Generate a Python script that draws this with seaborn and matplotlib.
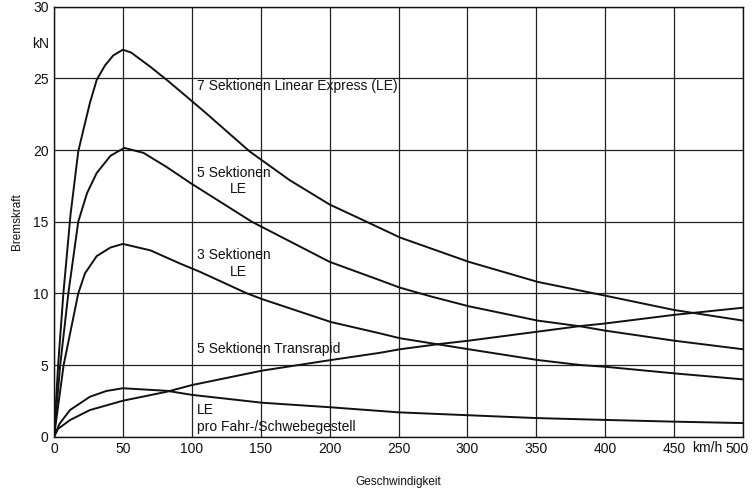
import matplotlib
matplotlib.use("Agg")
import matplotlib.pyplot as plt
import matplotlib.transforms as mtransforms
import seaborn as sns
import pandas as pd

# Bremskraft über Geschwindigkeit für verschiedene Zugkonfigurationen
v_7le = [0, 3, 6.8, 12, 17.6, 21.3, 26.1, 31, 37, 43, 50, 56, 63, 70, 83, 99, 110, 142, 171, 200, 229, 251, 301, 351, 400, 450, 500]
f_7le = [0, 5, 10, 15.5, 19.9, 21.4, 23.3, 24.9, 25.9, 26.6, 27.0, 26.8, 26.3, 25.8, 24.8, 23.5, 22.6, 19.9, 17.9, 16.2, 14.9, 13.9, 12.2, 10.8, 9.84, 8.84, 8.1]

v_5le = [0, 4.5, 10.4, 17.6, 24, 31, 41, 51, 65, 82, 99, 143.5, 200, 237, 251, 273, 301, 351, 382, 400, 450, 500]
f_5le = [0, 5, 10, 15, 17, 18.4, 19.6, 20.15, 19.8, 18.8, 17.7, 15.0, 12.2, 10.9, 10.4, 9.8, 9.1, 8.1, 7.7, 7.4, 6.7, 6.1]

v_3le = [0, 7, 17.6, 22.5, 31, 41, 50, 70, 91, 106, 140, 151, 201, 237, 251, 301, 351, 382, 400, 450, 500]
f_3le = [0, 5, 10, 11.4, 12.6, 13.2, 13.45, 13.0, 12.1, 11.5, 10.0, 9.6, 8.0, 7.2, 6.87, 6.1, 5.35, 5.0, 4.88, 4.42, 4.0]

v_tr = [0, 3, 11.6, 26.1, 50, 82, 100, 151, 201, 237, 251, 280, 301, 351, 382, 400, 450, 500]
f_tr = [0, 0.55, 1.16, 1.86, 2.51, 3.14, 3.6, 4.61, 5.35, 5.86, 6.1, 6.47, 6.7, 7.33, 7.72, 7.9, 8.5, 9.0]

v_le1 = [0, 4, 11.6, 26.1, 38, 50, 82, 100, 151, 201, 250, 300, 350, 400, 450, 500]
f_le1 = [0, 0.9, 1.86, 2.79, 3.19, 3.38, 3.2, 2.92, 2.37, 2.05, 1.7, 1.5, 1.3, 1.17, 1.05, 0.95]

series = {
    "7 Sektionen LE": (v_7le, f_7le),
    "5 Sektionen LE": (v_5le, f_5le),
    "3 Sektionen LE": (v_3le, f_3le),
    "5 Sektionen Transrapid": (v_tr, f_tr),
    "LE pro Fahr-/Schwebegestell": (v_le1, f_le1),
}

x_ticks = [0, 50, 100, 150, 200, 250, 300, 350, 400, 450, 500]
y_ticks = [0, 5, 10, 15, 20, 25, 30]

rows = []
for name, (vs, fs) in series.items():
    for v, f in zip(vs, fs):
        rows.append({"Geschwindigkeit": v, "Bremskraft": f, "Reihe": name})
df = pd.DataFrame(rows)

sns.set_theme(style="white")
plt.rcParams["font.family"] = ["Liberation Sans", "DejaVu Sans"]

fig = plt.figure(figsize=(7.52, 4.90), dpi=100)
ax = fig.add_axes([54 / 752, 1 - 436.7 / 490, (743 - 54) / 752, (436.7 - 6.7) / 490])

sns.lineplot(data=df, x="Geschwindigkeit", y="Bremskraft", hue="Reihe",
             palette=["#111111"] * len(series), legend=False, ax=ax,
             linewidth=1.4, sort=False, estimator=None)

ax.set_xlim(0, 500)
ax.set_ylim(0, 30)
ax.set_xticks(x_ticks)
ax.set_yticks(y_ticks)
ax.grid(True, color="#222222", linewidth=0.9)
for s in ax.spines.values():
    s.set_color("#111111")
    s.set_linewidth(1.0)
ax.tick_params(axis="both", labelsize=10, colors="#111111", length=0, pad=4)

# letzte Skalenbeschriftung etwas nach links, damit sie im Bild bleibt
last = ax.get_xticklabels()[-1]
last.set_transform(last.get_transform() + mtransforms.ScaledTranslation(-6 / 100, 0, fig.dpi_scale_trans))

ax.set_xlabel("Geschwindigkeit", fontsize=8.5, color="#111111", labelpad=14)
ax.set_ylabel("Bremskraft", fontsize=8.5, color="#111111", labelpad=7)

# Einheiten an den Achsen
ax.text(-0.032, 27.4, "kN", transform=ax.get_yaxis_transform(), ha="left",
        va="center", fontsize=10, color="#111111")
ax.text(474, -0.3, "km/h", ha="center", va="top", fontsize=10, color="#111111",
        clip_on=False)

# Beschriftungen der Kurven
tk = dict(fontsize=10, color="#111111", ha="left", va="center")
ax.text(104, 24.5, "7 Sektionen Linear Express (LE)", **tk)
ax.text(104, 18.4, "5 Sektionen", **tk)
ax.text(134, 17.3, "LE", fontsize=10, color="#111111", ha="center", va="center")
ax.text(104, 12.7, "3 Sektionen", **tk)
ax.text(134, 11.5, "LE", fontsize=10, color="#111111", ha="center", va="center")
ax.text(104, 6.1, "5 Sektionen Transrapid", **tk)
ax.text(104, 1.85, "LE", **tk)
ax.text(104, 0.7, "pro Fahr-/Schwebegestell", **tk)

fig.savefig("out.png", dpi=100)
